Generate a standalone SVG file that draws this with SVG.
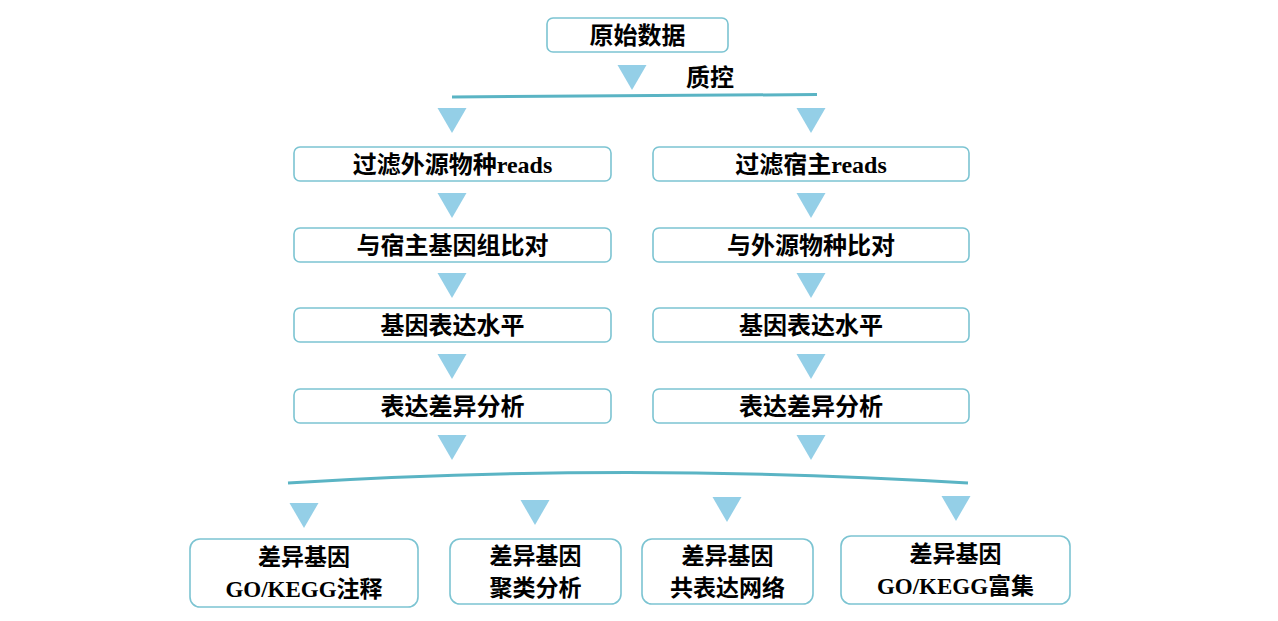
<svg xmlns="http://www.w3.org/2000/svg" width="1278" height="621" viewBox="0 0 1278 621">
<style>
.box{fill:#fff;stroke:#7cc4d2;stroke-width:1.6}
.tri{fill:#94cfe7}
.ln{fill:none;stroke:#5ab4c4;stroke-width:3}
.t{font-family:"Noto Sans CJK SC","Liberation Sans",sans-serif;font-weight:bold;font-size:24px;fill:#000;text-anchor:middle}
.b{font-size:23px}
.s{font-family:"Liberation Serif",serif;font-weight:bold}
</style>
<defs>
<polygon id="tr" class="tri" points="-14.5,0 14.5,0 0,25"/>
</defs>
<rect width="1278" height="621" fill="#fff"/>
<g id="connectors">
<path class="ln" d="M452 97 L817 94.5"/>
<path class="ln" d="M288 483 Q628 462 968 483"/>
<use href="#tr" x="632" y="65"/>
<use href="#tr" x="452" y="108"/>
<use href="#tr" x="811" y="108"/>
<use href="#tr" x="452" y="193"/>
<use href="#tr" x="811" y="193"/>
<use href="#tr" x="452" y="273"/>
<use href="#tr" x="811" y="273"/>
<use href="#tr" x="452" y="354"/>
<use href="#tr" x="811" y="354"/>
<use href="#tr" x="452" y="435"/>
<use href="#tr" x="811" y="435"/>
<use href="#tr" x="304" y="503"/>
<use href="#tr" x="535" y="500"/>
<use href="#tr" x="727" y="497"/>
<use href="#tr" x="956" y="496"/>
<text class="t" x="710" y="86">质控</text>
</g>
<g id="raw"><rect class="box" x="547" y="18" width="181" height="34" rx="6"/><text class="t" x="637.5" y="44">原始数据</text></g>
<g id="L1"><rect class="box" x="294" y="147" width="317" height="34" rx="6"/><text class="t" x="452.5" y="173">过滤外源物种<tspan class="s">reads</tspan></text></g>
<g id="R1"><rect class="box" x="653" y="147" width="316" height="34" rx="6"/><text class="t" x="811" y="173">过滤宿主<tspan class="s">reads</tspan></text></g>
<g id="L2"><rect class="box" x="294" y="228" width="317" height="34" rx="6"/><text class="t" x="452.5" y="254">与宿主基因组比对</text></g>
<g id="R2"><rect class="box" x="653" y="228" width="316" height="34" rx="6"/><text class="t" x="811" y="254">与外源物种比对</text></g>
<g id="L3"><rect class="box" x="294" y="308" width="317" height="34" rx="6"/><text class="t" x="452.5" y="334">基因表达水平</text></g>
<g id="R3"><rect class="box" x="653" y="308" width="316" height="34" rx="6"/><text class="t" x="811" y="334">基因表达水平</text></g>
<g id="L4"><rect class="box" x="294" y="389" width="317" height="34" rx="6"/><text class="t" x="452.5" y="415">表达差异分析</text></g>
<g id="R4"><rect class="box" x="653" y="389" width="316" height="34" rx="6"/><text class="t" x="811" y="415">表达差异分析</text></g>
<g id="B1"><rect class="box" x="190" y="539" width="228" height="68" rx="10"/><text class="t b" x="304" y="565">差异基因</text><text class="t b" x="304" y="597"><tspan class="s">GO/KEGG</tspan>注释</text></g>
<g id="B2"><rect class="box" x="450" y="539" width="171" height="65" rx="10"/><text class="t b" x="535.5" y="564">差异基因</text><text class="t b" x="535.5" y="596">聚类分析</text></g>
<g id="B3"><rect class="box" x="642" y="539" width="171" height="65" rx="10"/><text class="t b" x="727.5" y="564">差异基因</text><text class="t b" x="727.5" y="596">共表达网络</text></g>
<g id="B4"><rect class="box" x="841" y="536" width="229" height="68" rx="10"/><text class="t b" x="955.5" y="562">差异基因</text><text class="t b" x="955.5" y="594"><tspan class="s">GO/KEGG</tspan>富集</text></g>
</svg>
